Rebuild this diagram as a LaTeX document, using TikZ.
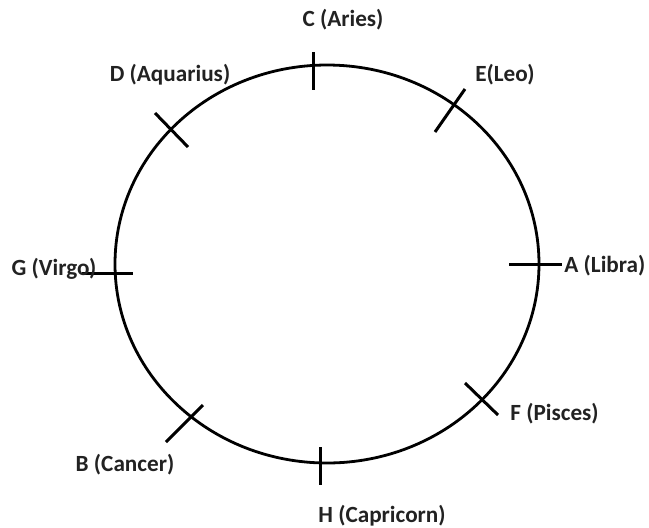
\documentclass[tikz,border=0pt]{standalone}
\usepackage{fontspec}
\setmainfont{Carlito}
\definecolor{InkGray}{HTML}{222222}
\usetikzlibrary{positioning,calc}
\tikzset{
  ring/.style={draw=black, line width=1.4pt},
  tickmark/.style={draw=black, line width=1.5pt},
  signlabel/.style={text=InkGray, font=\fontsize{11.6}{13}\selectfont\bfseries, inner sep=0pt}
}
\begin{document}
\begin{tikzpicture}[x=0.5pt,y=-0.5pt]
\useasboundingbox (0,0) rectangle (649,527);
% the ring
\draw[ring] (327,264) ellipse [x radius=106pt, y radius=99.5pt];
% tick end points
\coordinate (c1) at (313,52);  \coordinate (c2) at (313,90);
\coordinate (e1) at (465,89);  \coordinate (e2) at (435,132);
\coordinate (a1) at (509,264); \coordinate (a2) at (562,264);
\coordinate (f1) at (465,383); \coordinate (f2) at (498,415);
\coordinate (h1) at (320,447); \coordinate (h2) at (320,485);
\coordinate (b1) at (203,405); \coordinate (b2) at (166,442);
\coordinate (g1) at (82,273);  \coordinate (g2) at (133,273);
\coordinate (d1) at (155,113); \coordinate (d2) at (188,147);
\foreach \t in {c,e,a,f,h,b,g,d}
  \draw[tickmark] (\t1) -- (\t2);
% labels
\node[signlabel] (aries) at (343,20) {C (Aries)};
\node[signlabel] (aquarius) at (170,75) {D (Aquarius)};
\node[signlabel] (leo) at (505,75) {E(Leo)};
\node[signlabel, anchor=west] (libra) at (564,266) {A (Libra)};
\node[signlabel, anchor=west] (pisces) at (510,414) {F (Pisces)};
\node[signlabel, anchor=west] (capricorn) at (318,516) {H (Capricorn)};
\node[signlabel] (cancer) at (125,465) {B (Cancer)};
\node[signlabel] (virgo) at (54,269) {G (Virgo)};
\end{tikzpicture}
\end{document}
